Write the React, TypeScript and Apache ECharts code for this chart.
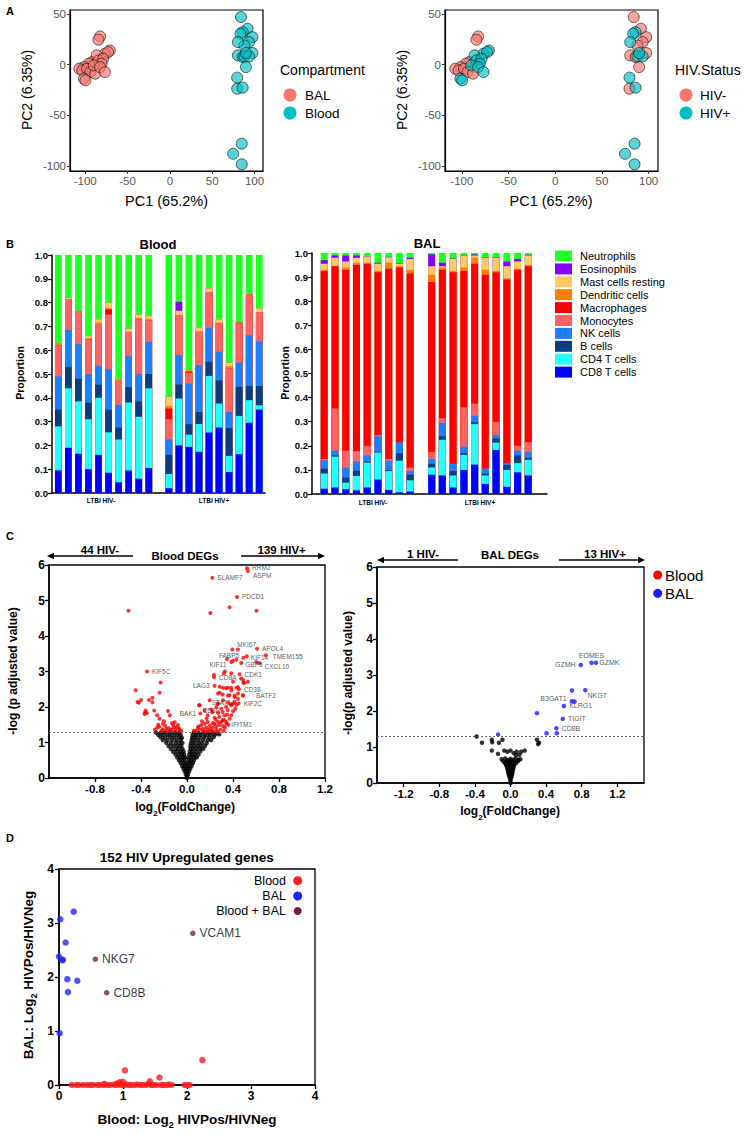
import React, { useEffect, useRef } from "react";
import * as echarts from "echarts";

const FONT = '"Liberation Sans", Arial, Helvetica, sans-serif';

// ---------------- Panel A : PCA ----------------
const pcaXTicks = [-100, -50, 0, 50, 100];
const pcaYTicks = [-100, -50, 0, 50];
const balHivNeg = [[-82.5, 27.9], [-84.4, 24.7], [-91.9, 2.6], [-95.8, 1], [-101.5, -2.4], [-107, -4], [-103.5, -5.6], [-97.7, -4], [-93.9, -7.3], [-88.2, -8.9]];
const balHivPos = [[-71, 14], [-76.8, 10.8], [-73, 12.4], [-86.4, 9.2], [-84.4, 4.2], [-78.8, 5.9], [-80.7, 1], [-90, -0.7], [-82.5, -2.4], [-76.8, -7.3], [-101.5, -13.8], [-99.6, -15.4]];
const bloodHivNeg = [[84, 47], [91.7, 35.5], [97.4, 27.2], [93.6, 22.3], [88, 19], [97.4, 11.5], [80.3, 9.2], [86, 7.5], [89.8, -2.4], [79.5, -23.7]];
const bloodHivPos = [[86, 32.2], [83.4, 30.6], [80.3, 22.3], [88, 8.2], [93.6, 8.2], [89.8, 11.5], [79.5, -12.8], [86, -22.7], [84.9, -78], [74.7, -88], [84.9, -98.4]];

// ---------------- Panel B : cell proportions (cumulative tops) ----------------
const cellTypes = ["Neutrophils", "Eosinophils", "Mast cells resting", "Dendritic cells", "Macrophages", "Monocytes", "NK cells", "B cells", "CD4 T cells", "CD8 T cells"];
const groupLabels = ["LTBI HIV-", "LTBI HIV+"];
const bloodCD8 = [0.095, 0.19, 0.165, 0.10, 0.16, 0.085, 0.045, 0.095, 0.06, 0.105, 0.02, 0.20, 0.194, 0.173, 0.254, 0.275, 0.088, 0.163, 0.295, 0.351];
const bloodCD4 = [0.28, 0.44, 0.385, 0.31, 0.40, 0.255, 0.225, 0.38, 0.32, 0.44, 0.08, 0.397, 0.245, 0.29, 0.492, 0.376, 0.156, 0.324, 0.39, 0.369];
const bloodB = [0.35, 0.53, 0.48, 0.38, 0.455, 0.35, 0.275, 0.445, 0.385, 0.50, 0.16, 0.456, 0.289, 0.34, 0.551, 0.473, 0.273, 0.446, 0.45, 0.45];
const bloodNK = [0.49, 0.685, 0.625, 0.50, 0.535, 0.52, 0.37, 0.575, 0.50, 0.635, 0.225, 0.579, 0.46, 0.537, 0.694, 0.593, 0.341, 0.547, 0.663, 0.638];
const bloodMono = [0.62, 0.815, 0.765, 0.645, 0.71, 0.75, 0.47, 0.675, 0.73, 0.725, 0.31, 0.748, 0.505, 0.677, 0.845, 0.712, 0.523, 0.712, 0.834, 0.759];
const bloodMacro = [0.62, 0.815, 0.765, 0.645, 0.71, 0.772, 0.47, 0.675, 0.73, 0.725, 0.355, 0.748, 0.51, 0.677, 0.845, 0.712, 0.523, 0.712, 0.834, 0.759];
const bloodDendr = [0.628, 0.815, 0.765, 0.65, 0.716, 0.776, 0.478, 0.678, 0.735, 0.73, 0.366, 0.748, 0.515, 0.677, 0.845, 0.715, 0.533, 0.72, 0.834, 0.759];
const bloodMast = [0.628, 0.82, 0.765, 0.66, 0.73, 0.80, 0.478, 0.69, 0.75, 0.745, 0.404, 0.766, 0.515, 0.695, 0.86, 0.73, 0.547, 0.72, 0.834, 0.776];
const bloodEos = [0.628, 0.82, 0.765, 0.66, 0.73, 0.80, 0.478, 0.69, 0.75, 0.745, 0.404, 0.804, 0.515, 0.695, 0.86, 0.73, 0.547, 0.72, 0.834, 0.776];
const bloodNeutro = [1, 1, 1, 1, 1, 1, 1, 1, 1, 1, 1, 1, 1, 1, 1, 1, 1, 1, 1, 1];

const balCD8 = [0.022, 0.027, 0.02, 0.015, 0.027, 0.06, 0.017, 0.007, 0.01, 0.08, 0.077, 0.027, 0.10, 0.122, 0.042, 0.183, 0.03, 0.09, 0.077];
const balCD4 = [0.085, 0.155, 0.047, 0.075, 0.13, 0.172, 0.095, 0.138, 0.057, 0.11, 0.225, 0.077, 0.162, 0.29, 0.077, 0.213, 0.10, 0.128, 0.142];
const balB = [0.105, 0.16, 0.068, 0.097, 0.135, 0.175, 0.10, 0.168, 0.08, 0.125, 0.24, 0.095, 0.17, 0.298, 0.085, 0.23, 0.12, 0.16, 0.15];
const balNK = [0.14, 0.18, 0.11, 0.135, 0.16, 0.24, 0.138, 0.213, 0.095, 0.145, 0.295, 0.125, 0.197, 0.325, 0.105, 0.245, 0.128, 0.18, 0.175];
const balMono = [0.145, 0.355, 0.18, 0.178, 0.20, 0.245, 0.145, 0.213, 0.11, 0.175, 0.315, 0.125, 0.36, 0.375, 0.105, 0.30, 0.128, 0.20, 0.215];
const balMacro = [0.925, 0.945, 0.93, 0.95, 0.955, 0.92, 0.935, 0.94, 0.915, 0.88, 0.93, 0.92, 0.925, 0.955, 0.91, 0.92, 0.89, 0.93, 0.945];
const balDendr = [0.93, 0.947, 0.94, 0.96, 0.96, 0.925, 0.96, 0.945, 0.93, 0.91, 0.94, 0.925, 0.94, 0.98, 0.93, 0.925, 0.895, 0.935, 0.95];
const balMast = [0.955, 0.98, 0.965, 0.98, 0.985, 0.955, 0.982, 0.955, 0.975, 0.945, 0.945, 0.975, 0.99, 0.99, 0.98, 0.98, 0.945, 0.965, 0.99];
const balEos = [0.97, 0.99, 0.99, 0.99, 0.987, 0.96, 0.984, 0.957, 0.98, 0.995, 0.96, 0.977, 0.992, 0.995, 0.982, 0.982, 0.965, 0.975, 0.993];
const balNeutro = [1, 1, 1, 1, 1, 1, 1, 1, 1, 1, 1, 1, 1, 1, 1, 1, 1, 1, 1];

// ---------------- Panel C : volcano plots ----------------
const pThreshold = 1.3;
const bloodVolcanoXTicks = [-0.8, -0.4, 0, 0.4, 0.8, 1.2];
const balVolcanoXTicks = [-1.2, -0.8, -0.4, 0, 0.4, 0.8, 1.2];
const bloodDown = [[-0.51, 4.71], [-0.447, 2.47], [-0.23, 2.69], [-0.238, 2.40], [-0.40, 2.20], [-0.42, 2.12], [-0.30, 2.26], [-0.30, 2.13], [-0.36, 1.90], [-0.35, 1.83], [-0.285, 1.90], [-0.26, 1.77], [-0.165, 1.89], [-0.15, 1.77], [-0.24, 1.67], [-0.21, 1.53], [-0.24, 1.44], [-0.18, 1.39], [-0.12, 1.49], [-0.092, 1.42], [-0.21, 1.37], [-0.137, 1.37], [-0.063, 1.35], [-0.107, 1.57], [-0.079, 1.49], [-0.37, 1.80], [-0.19, 1.47], [-0.16, 1.40], [-0.10, 1.33], [-0.22, 1.33], [-0.26, 1.42], [-0.13, 1.55], [-0.05, 1.32], [-0.28, 1.36], [-0.17, 1.31], [-0.115, 1.43], [-0.20, 1.60], [-0.07, 1.40], [-0.25, 1.50], [-0.145, 1.33], [-0.43, 2.14], [-0.365, 1.85], [-0.33, 2.2]];
const bloodUp = [[0.37, 4.81], [0.203, 4.65], [0.603, 4.71], [0.443, 3.62], [0.49, 3.39], [0.429, 3.33], [0.40, 3.30], [0.603, 3.27], [0.33, 3.0], [0.235, 2.90], [0.385, 2.95], [0.40, 2.71], [0.487, 2.76], [0.49, 2.68], [0.53, 2.71], [0.284, 2.57], [0.313, 2.54], [0.356, 2.54], [0.385, 2.54], [0.43, 2.54], [0.443, 2.56], [0.284, 2.40], [0.356, 2.32], [0.414, 2.32], [0.443, 2.23], [0.385, 2.08], [0.429, 2.06], [0.268, 2.09], [0.47, 2.80], [0.50, 2.68], [0.34, 2.53], [0.385, 2.47], [0.443, 2.38], [0.485, 2.33], [0.414, 2.28], [0.37, 2.33], [0.31, 2.35], [0.27, 2.38], [0.40, 2.10], [0.356, 2.12], [0.313, 2.19], [0.27, 2.09], [0.32, 2.95],
  [0.104, 2.05], [0.153, 1.91], [0.18, 1.77], [0.21, 1.93], [0.255, 2.0], [0.27, 1.83], [0.24, 1.70], [0.28, 1.72], [0.31, 1.86], [0.326, 1.77], [0.34, 2.0], [0.355, 1.91], [0.385, 2.05], [0.40, 1.88], [0.414, 2.15], [0.31, 1.63], [0.27, 1.58], [0.226, 1.55], [0.18, 1.58], [0.153, 1.53], [0.124, 1.49], [0.095, 1.42], [0.139, 1.39], [0.168, 1.42], [0.197, 1.39], [0.226, 1.42], [0.255, 1.46], [0.284, 1.49], [0.298, 1.58], [0.326, 1.63], [0.21, 1.34], [0.255, 1.37], [0.18, 1.34], [0.081, 1.34], [0.11, 1.37], [0.313, 1.46], [0.342, 1.53], [0.37, 1.67], [0.385, 1.77], [0.06, 1.33], [0.14, 1.33], [0.23, 1.31], [0.29, 1.36], [0.33, 1.42], [0.36, 1.50], [0.20, 1.48], [0.13, 1.60], [0.25, 1.65], [0.35, 1.78], [0.42, 1.95], [0.30, 1.95], [0.22, 1.85], [0.17, 1.67], [0.10, 1.45], [0.27, 1.30], [0.32, 1.33], [0.16, 1.31], [0.24, 1.52]];
const bloodGeneNames = ["RRM2", "ASPM", "SLAMF7", "PDCD1", "MKI67", "APOL4", "FABP5", "KIF14", "TMEM155", "KIF11", "GBP5", "CXCL10", "CDK1", "CD8A", "LAG3", "CD38", "BATF2", "KIF2C", "STAT1", "CD8B", "BAK1", "IFITM1", "KIF5C"];
const bloodGeneFC = [0.522, 0.53, 0.22, 0.435, 0.394, 0.609, 0.348, 0.52, 0.684, 0.385, 0.472, 0.631, 0.457, 0.235, 0.24, 0.452, 0.487, 0.449, 0.197, 0.11, 0.116, 0.342, -0.348];
const bloodGeneP = [5.91, 5.83, 5.64, 5.10, 3.62, 3.64, 3.35, 3.43, 3.46, 3.27, 3.24, 3.23, 2.92, 2.84, 2.60, 2.50, 2.32, 2.10, 2.19, 2.05, 1.82, 1.58, 3.0];
const bloodNS = [[-0.27, 1.28], [-0.23, 1.27], [-0.19, 1.28], [-0.15, 1.27], [-0.11, 1.28], [-0.07, 1.27], [0.06, 1.28], [0.1, 1.27], [0.14, 1.28], [0.18, 1.27], [0.22, 1.28], [0.26, 1.26],
  [-0.25, 1.22], [-0.21, 1.21], [-0.17, 1.22], [-0.13, 1.21], [-0.09, 1.22], [-0.055, 1.21], [0.05, 1.22], [0.08, 1.21], [0.12, 1.22], [0.16, 1.21], [0.2, 1.22], [0.24, 1.21], [0.28, 1.23],
  [-0.23, 1.15], [-0.19, 1.14], [-0.15, 1.15], [-0.11, 1.14], [-0.07, 1.15], [-0.045, 1.13], [0.045, 1.14], [0.075, 1.15], [0.11, 1.14], [0.15, 1.15], [0.19, 1.14], [0.23, 1.15],
  [-0.21, 1.07], [-0.17, 1.06], [-0.13, 1.07], [-0.09, 1.06], [-0.055, 1.07], [0.04, 1.06], [0.07, 1.07], [0.1, 1.06], [0.14, 1.07], [0.18, 1.06], [0.21, 1.07],
  [-0.18, 0.99], [-0.14, 0.98], [-0.1, 0.99], [-0.065, 0.98], [-0.04, 0.99], [0.035, 0.98], [0.065, 0.99], [0.1, 0.98], [0.13, 0.99], [0.17, 0.98],
  [-0.16, 0.9], [-0.12, 0.9], [-0.085, 0.91], [-0.05, 0.9], [0.03, 0.9], [0.06, 0.91], [0.09, 0.9], [0.12, 0.91], [0.155, 0.9],
  [-0.14, 0.82], [-0.1, 0.82], [-0.07, 0.83], [-0.04, 0.82], [0.03, 0.82], [0.055, 0.83], [0.085, 0.82], [0.115, 0.83], [0.14, 0.82],
  [-0.12, 0.74], [-0.085, 0.75], [-0.055, 0.74], [-0.03, 0.75], [0.025, 0.74], [0.05, 0.75], [0.08, 0.74], [0.115, 0.75],
  [-0.1, 0.66], [-0.07, 0.66], [-0.045, 0.67], [-0.025, 0.66], [0.02, 0.66], [0.045, 0.67], [0.07, 0.66], [0.1, 0.66],
  [-0.085, 0.58], [-0.06, 0.58], [-0.035, 0.59], [-0.015, 0.58], [0.018, 0.58], [0.04, 0.59], [0.065, 0.58], [0.085, 0.58],
  [-0.07, 0.5], [-0.045, 0.5], [-0.022, 0.51], [0.015, 0.5], [0.035, 0.51], [0.06, 0.5],
  [-0.055, 0.42], [-0.032, 0.42], [-0.012, 0.43], [0.012, 0.42], [0.032, 0.43], [0.052, 0.42],
  [-0.042, 0.34], [-0.02, 0.34], [0.0, 0.35], [0.02, 0.34], [0.04, 0.34],
  [-0.03, 0.26], [-0.012, 0.26], [0.01, 0.26], [0.028, 0.26],
  [-0.02, 0.18], [0.0, 0.18], [0.018, 0.18], [-0.01, 0.1], [0.008, 0.1], [0, 0.03], [0, 0]];

const balSig = [[0.69, 2.57], [0.72, 2.26], [0.297, 1.94], [0.52, 1.38], [0.405, 1.38], [-0.14, 1.35]];
const balGeneNames = ["EOMES", "GZMK", "GZMH", "NKG7", "B3GAT1", "KLRG1", "TIGIT", "CD8B"];
const balGeneFC = [0.91, 0.96, 0.79, 0.84, 0.69, 0.60, 0.587, 0.515];
const balGeneP = [3.34, 3.34, 3.28, 2.58, 2.27, 2.14, 1.78, 1.52];
const balNS = [[-0.38, 1.29], [-0.32, 1.12], [-0.21, 1.2], [-0.205, 1.13], [-0.13, 1.12], [-0.09, 1.2], [-0.21, 0.9], [-0.14, 0.81], [-0.07, 0.9], [-0.035, 0.87], [0.0, 0.9], [0.035, 0.83], [0.06, 0.78], [0.1, 0.78], [0.12, 0.87], [0.16, 0.9], [0.07, 0.87], [0.297, 1.2], [0.31, 1.08], [0.32, 1.12],
  [-0.1, 0.66], [-0.06, 0.68], [-0.03, 0.64], [0.0, 0.67], [0.03, 0.65], [0.06, 0.68], [0.09, 0.64], [0.11, 0.66], [-0.08, 0.6], [-0.04, 0.6], [0.0, 0.6], [0.04, 0.6], [0.08, 0.6],
  [-0.06, 0.55], [-0.03, 0.55], [0, 0.55], [0.03, 0.55], [0.06, 0.55], [-0.05, 0.5], [-0.02, 0.5], [0.01, 0.5], [0.04, 0.5], [-0.04, 0.45], [0, 0.45], [0.035, 0.45], [-0.035, 0.4], [0, 0.4], [0.03, 0.4], [-0.03, 0.35], [0, 0.35], [0.025, 0.35], [-0.025, 0.3], [0, 0.3], [0.02, 0.3], [-0.02, 0.25], [0, 0.25], [0.02, 0.25], [-0.015, 0.2], [0.012, 0.2], [-0.01, 0.15], [0.01, 0.15], [0, 0.1], [0, 0.05], [0, 0.0]];

// ---------------- Panel D : 152 HIV upregulated genes ----------------
const dBlood = [[2.24, 0.46], [1.03, 0.27], [1.57, 0.14], [1.42, 0.07], [0.95, 0.05], [0.91, 0.03], [0.71, 0.02], [1.0, 0.06],
  [0.2, 0], [0.27, 0], [0.31, 0], [0.38, 0], [0.44, 0], [0.49, 0], [0.53, 0], [0.6, 0], [0.64, 0], [0.7, 0], [0.76, 0], [0.8, 0], [0.86, 0.01], [0.89, 0], [0.93, 0.01], [0.97, 0], [1.02, 0], [1.06, 0.01], [1.1, 0], [1.13, 0], [1.18, 0], [1.22, 0.01], [1.27, 0], [1.31, 0], [1.36, 0], [1.4, 0.02], [1.44, 0], [1.48, 0], [1.53, 0], [1.6, 0], [1.63, 0], [1.68, 0], [1.72, 0.01], [1.76, 0], [1.96, 0], [2.0, 0], [2.04, 0]];
const dBal = [[0.229, 3.21], [0.02, 3.07], [0.104, 2.64], [0.0, 2.38], [0.052, 2.31], [0.06, 2.32], [0.13, 1.96], [0.286, 1.93], [0.14, 1.72], [0.01, 0.96]];
const dBothNames = ["VCAM1", "NKG7", "CD8B"];
const dBothX = [2.09, 0.568, 0.745];
const dBothY = [2.81, 2.33, 1.71];

// ---------------- styles / layout ----------------
const cellColors = ["#22FF22", "#8800FF", "#FFCA66", "#FF8000", "#FF0000", "#FF6464", "#1A80FF", "#0A3D7D", "#22FFFF", "#0000FF"];
const SALMON = "#F8766D";
const TEAL = "#00BFC4";
const GENE_LABEL = "#2b2b2b";

const bloodTops = [bloodNeutro, bloodEos, bloodMast, bloodDendr, bloodMacro, bloodMono, bloodNK, bloodB, bloodCD4, bloodCD8];
const balTops = [balNeutro, balEos, balMast, balDendr, balMacro, balMono, balNK, balB, balCD4, balCD8];
const bloodPos = (i: number) => (i < 10 ? i : i + 1);
const balPos = (i: number) => (i < 9 ? i : i + 1);

const bloodLabelPlace: Record<string, any> = {
  RRM2: { position: "right", offset: [0, -1] }, ASPM: { position: "right", offset: [0, 4] }, SLAMF7: { position: "right" },
  PDCD1: { position: "right" }, MKI67: { position: "right", offset: [0, -5] }, APOL4: { position: "right" },
  FABP5: { position: "top", offset: [2, 5] }, KIF14: { position: "right", offset: [-1, 1] }, TMEM155: { position: "right", offset: [2, 1] },
  KIF11: { position: "left", offset: [0, 3] }, GBP5: { position: "right", offset: [-1, 2] }, CXCL10: { position: "right", offset: [0, 3] },
  CDK1: { position: "right" }, CD8A: { position: "right" }, LAG3: { position: "left" }, CD38: { position: "right" },
  BATF2: { position: "right", offset: [8, 0] }, KIF2C: { position: "right" }, STAT1: { position: "right", offset: [-3, 2] },
  CD8B: { position: "right", offset: [-2, 5] }, BAK1: { position: "left", offset: [1, 0] }, IFITM1: { position: "right", offset: [0, 3] },
  KIF5C: { position: "right" },
};
const balLabelPlace: Record<string, any> = {
  EOMES: { position: "top", offset: [0, 1] }, GZMK: { position: "right", offset: [-2, 0] }, GZMH: { position: "left" },
  NKG7: { position: "right", offset: [-3, 5] }, B3GAT1: { position: "left", offset: [0, -3] }, KLRG1: { position: "right" },
  TIGIT: { position: "right" }, CD8B: { position: "right" },
};

const txt = (text: string, x: number, y: number, font: string, o: any = {}) => ({
  type: "text", x, y, rotation: o.rot || 0, silent: true, z: 100,
  style: {
    text, font, fill: o.fill || "#000",
    textAlign: o.align || "center", align: o.align || "center",
    textVerticalAlign: "middle", verticalAlign: "middle",
    rich: o.rich,
  },
});
const arrow = (x1: number, x2: number, y: number, dir: number) => {
  const tip = dir < 0 ? x1 : x2;
  return [
    { type: "line", silent: true, z: 100, shape: { x1: dir < 0 ? x1 + 5 : x1, y1: y, x2: dir < 0 ? x2 : x2 - 5, y2: y }, style: { stroke: "#000", lineWidth: 1.6 } },
    { type: "polygon", silent: true, z: 100, shape: { points: [[tip, y], [tip - dir * 7, y - 3.2], [tip - dir * 7, y + 3.2]] }, style: { fill: "#000" } },
  ];
};

const bold = (s: number) => `bold ${s}px ${FONT}`;
const norm = (s: number) => `${s}px ${FONT}`;

function pcaAxes(g: number) {
  const common = { gridIndex: g, type: "value", splitLine: { show: false } };
  return {
    x: { ...common, min: -118, max: 110,
      axisLine: { show: true, onZero: false, lineStyle: { color: "#000", width: 1.2 } },
      axisTick: { show: true, customValues: pcaXTicks, length: 3, lineStyle: { color: "#333" } },
      axisLabel: { customValues: pcaXTicks, color: "#555", fontSize: 11.5, fontFamily: FONT, margin: 4 } },
    y: { ...common, min: -105, max: 54,
      axisLine: { show: true, onZero: false, lineStyle: { color: "#000", width: 1.2 } },
      axisTick: { show: true, customValues: pcaYTicks, length: 3, lineStyle: { color: "#333" } },
      axisLabel: { customValues: pcaYTicks, color: "#555", fontSize: 11.5, fontFamily: FONT, margin: 4 } },
  };
}

function barAxes(g: number, min: number, max: number) {
  return {
    x: { gridIndex: g, type: "value", min, max, axisLine: { show: true, onZero: false, lineStyle: { color: "#000", width: 1.5 } },
      axisTick: { show: false }, axisLabel: { show: false }, splitLine: { show: false } },
    y: { gridIndex: g, type: "value", min: 0, max: 1, interval: 0.1,
      axisLine: { show: true, onZero: false, lineStyle: { color: "#000", width: 1.5 } },
      axisTick: { show: true, length: 4, lineStyle: { color: "#000", width: 1.2 } },
      axisLabel: { formatter: (v: number) => v.toFixed(1), fontWeight: "bold", fontSize: 9.5, color: "#000", fontFamily: FONT, margin: 4 },
      splitLine: { show: false } },
  };
}

function volcanoAxes(g: number, xr: number, ticks: number[]) {
  return {
    x: { gridIndex: g, type: "value", min: -xr, max: xr, splitLine: { show: false },
      axisLine: { show: true, onZero: false, lineStyle: { color: "#000", width: 1.5 } },
      axisTick: { show: true, customValues: ticks, length: 4, lineStyle: { color: "#000", width: 1.3 } },
      axisLabel: { customValues: ticks, formatter: (v: number) => v.toFixed(1), fontWeight: "bold", fontSize: 11.5, color: "#000", fontFamily: FONT, margin: 5 } },
    y: { gridIndex: g, type: "value", min: 0, max: 6, interval: 1, splitLine: { show: false },
      axisLine: { show: true, onZero: false, lineStyle: { color: "#000", width: 1.5 } },
      axisTick: { show: true, length: 4, lineStyle: { color: "#000", width: 1.3 } },
      axisLabel: { fontWeight: "bold", fontSize: 12, color: "#000", fontFamily: FONT, margin: 4 } },
  };
}

function buildOption() {
  const grids = [
    { left: 70, top: 10, width: 193, height: 161, show: true, borderColor: "#000", borderWidth: 1.2 },
    { left: 445, top: 10, width: 213, height: 161, show: true, borderColor: "#000", borderWidth: 1.2 },
    { left: 52, top: 255, width: 213, height: 238 },
    { left: 312, top: 253, width: 235, height: 241 },
    { left: 49, top: 565, width: 276, height: 213, show: true, borderColor: "#000", borderWidth: 1.3 },
    { left: 377, top: 567, width: 267, height: 216, show: true, borderColor: "#000", borderWidth: 1.3 },
    { left: 59, top: 869, width: 256, height: 216, show: true, borderColor: "#000", borderWidth: 1.3 },
  ];
  const a0 = pcaAxes(0), a1 = pcaAxes(1);
  const b2 = barAxes(2, -0.63, 20.57), b3 = barAxes(3, -1.14, 20.74);
  const v4 = volcanoAxes(4, 1.2, bloodVolcanoXTicks), v5 = volcanoAxes(5, 1.5, balVolcanoXTicks);
  const dTicks = {
    axisLine: { show: true, onZero: false, lineStyle: { color: "#000", width: 1.5 } },
    axisTick: { show: true, length: 4, lineStyle: { color: "#000", width: 1.3 } },
    axisLabel: { fontWeight: "bold", fontSize: 12, color: "#000", fontFamily: FONT, margin: 5 },
    splitLine: { show: false },
  };
  const xAxis = [a0.x, a1.x, b2.x, b3.x, v4.x, v5.x, { gridIndex: 6, type: "value", min: 0, max: 4, interval: 1, ...dTicks }];
  const yAxis = [a0.y, a1.y, b2.y, b3.y, v4.y, v5.y, { gridIndex: 6, type: "value", min: 0, max: 4, interval: 1, ...dTicks }];

  const pcaStyle = (c: string) => ({ color: echarts.color.modifyAlpha(c, 0.82), borderColor: "#111", borderWidth: 0.8 });
  const series: any[] = [];
  // Panel A
  series.push({ type: "scatter", name: "BAL", xAxisIndex: 0, yAxisIndex: 0, symbolSize: 11, itemStyle: pcaStyle(SALMON), data: [...balHivNeg, ...balHivPos] });
  series.push({ type: "scatter", name: "Blood", xAxisIndex: 0, yAxisIndex: 0, symbolSize: 11, itemStyle: pcaStyle(TEAL), data: [...bloodHivNeg, ...bloodHivPos] });
  series.push({ type: "scatter", name: "HIV-", xAxisIndex: 1, yAxisIndex: 1, symbolSize: 11, itemStyle: pcaStyle(SALMON), data: [...balHivNeg, ...bloodHivNeg] });
  series.push({ type: "scatter", name: "HIV+", xAxisIndex: 1, yAxisIndex: 1, symbolSize: 11, itemStyle: pcaStyle(TEAL), data: [...balHivPos, ...bloodHivPos] });
  // Panel B
  cellTypes.forEach((name, k) => {
    series.push({ type: "bar", name, xAxisIndex: 2, yAxisIndex: 2, barWidth: 6.7, barGap: "-100%", itemStyle: { color: cellColors[k] },
      data: bloodTops[k].map((v, i) => [bloodPos(i), v]) });
  });
  cellTypes.forEach((name, k) => {
    series.push({ type: "bar", name, xAxisIndex: 3, yAxisIndex: 3, barWidth: 7, barGap: "-100%", itemStyle: { color: cellColors[k] },
      data: balTops[k].map((v, i) => [balPos(i), v]) });
  });
  // Panel C
  const thresholdLine = { silent: true, symbol: "none", label: { show: false }, lineStyle: { type: [2, 2], color: "#555", width: 0.9 }, data: [{ yAxis: pThreshold }] };
  series.push({ type: "scatter", name: "Blood NS", xAxisIndex: 4, yAxisIndex: 4, symbolSize: 4.5, itemStyle: { color: "#000" }, data: bloodNS, markLine: thresholdLine });
  series.push({ type: "scatter", name: "Blood DEG", xAxisIndex: 4, yAxisIndex: 4, symbolSize: 4, itemStyle: { color: "#FF0000" }, data: [...bloodDown, ...bloodUp] });
  series.push({ type: "scatter", name: "Blood DEG labelled", xAxisIndex: 4, yAxisIndex: 4, symbolSize: 4, itemStyle: { color: "#FF0000" },
    label: { show: true, formatter: "{b}", fontSize: 6.5, color: GENE_LABEL, fontFamily: FONT, distance: 3 },
    data: bloodGeneNames.map((n, i) => ({ name: n, value: [bloodGeneFC[i], bloodGeneP[i]],
      label: { ...bloodLabelPlace[n], color: GENE_LABEL, fontSize: 6.5, fontFamily: FONT } })) });
  series.push({ type: "scatter", name: "BAL NS", xAxisIndex: 5, yAxisIndex: 5, symbolSize: 4.5, itemStyle: { color: "#000" }, data: balNS, markLine: thresholdLine });
  series.push({ type: "scatter", name: "BAL DEG", xAxisIndex: 5, yAxisIndex: 5, symbolSize: 4.5, itemStyle: { color: "#1A1AFF" }, data: balSig });
  series.push({ type: "scatter", name: "BAL DEG labelled", xAxisIndex: 5, yAxisIndex: 5, symbolSize: 4.5, itemStyle: { color: "#1A1AFF" },
    label: { show: true, formatter: "{b}", fontSize: 7, color: GENE_LABEL, fontFamily: FONT, distance: 3 },
    data: balGeneNames.map((n, i) => ({ name: n, value: [balGeneFC[i], balGeneP[i]],
      label: { ...balLabelPlace[n], color: GENE_LABEL, fontSize: 7, fontFamily: FONT } })) });
  // Panel D
  series.push({ type: "scatter", name: "D Blood", xAxisIndex: 6, yAxisIndex: 6, symbolSize: 6.5, itemStyle: { color: "#FF1E1E" }, data: dBlood });
  series.push({ type: "scatter", name: "D BAL", xAxisIndex: 6, yAxisIndex: 6, symbolSize: 6.5, itemStyle: { color: "#2222FF" }, data: dBal });
  series.push({ type: "scatter", name: "D Blood + BAL", xAxisIndex: 6, yAxisIndex: 6, symbolSize: 5.5, itemStyle: { color: "#7A1E4B" },
    label: { show: true, position: "right", formatter: "{b}", fontSize: 12, color: "#000", fontFamily: FONT, distance: 4 },
    data: dBothNames.map((n, i) => ({ name: n, value: [dBothX[i], dBothY[i]] })) });

  const sub = (big: number, small: number) => ({
    a: { font: bold(big), lineHeight: big + 4, verticalAlign: "middle" },
    s: { font: bold(small), lineHeight: big + 4, verticalAlign: "bottom", padding: [0, 0, -2, 0] },
  });

  const graphic: any[] = [
    // panel letters
    txt("A", 6, 11, bold(11), { align: "left" }),
    txt("B", 6, 244, bold(11), { align: "left" }),
    txt("C", 6, 536, bold(11), { align: "left" }),
    txt("D", 6, 838, bold(11), { align: "left" }),
    // Panel A
    txt("PC2 (6.35%)", 27, 90, norm(14), { rot: Math.PI / 2 }),
    txt("PC2 (6.35%)", 402, 90, norm(14), { rot: Math.PI / 2 }),
    txt("PC1 (65.2%)", 166.5, 201, norm(14.5)),
    txt("PC1 (65.2%)", 551, 201, norm(14.5)),
    txt("Compartment", 280, 70, norm(14), { align: "left" }),
    { type: "circle", silent: true, shape: { cx: 290, cy: 95, r: 6.5 }, style: { fill: SALMON } },
    { type: "circle", silent: true, shape: { cx: 290, cy: 113, r: 6.5 }, style: { fill: TEAL } },
    txt("BAL", 305, 95, norm(13.5), { align: "left" }),
    txt("Blood", 305, 113, norm(13.5), { align: "left" }),
    txt("HIV.Status", 675, 70, norm(14), { align: "left" }),
    { type: "circle", silent: true, shape: { cx: 686, cy: 95, r: 6.5 }, style: { fill: SALMON } },
    { type: "circle", silent: true, shape: { cx: 686, cy: 113, r: 6.5 }, style: { fill: TEAL } },
    txt("HIV-", 700, 95, norm(13.5), { align: "left" }),
    txt("HIV+", 700, 113, norm(13.5), { align: "left" }),
    // Panel B
    txt("Blood", 158, 244, bold(13)),
    txt("BAL", 427, 243, bold(13)),
    txt("Proportion", 20, 373, bold(10.5), { rot: Math.PI / 2 }),
    txt("Proportion", 285, 373, bold(10.5), { rot: Math.PI / 2 }),
    txt(groupLabels[0], 101, 500, bold(6.5)),
    txt(groupLabels[1], 214, 500, bold(6.5)),
    txt(groupLabels[0], 373, 502, bold(6.5)),
    txt(groupLabels[1], 480, 502, bold(6.5)),
    ...cellTypes.flatMap((n, k) => [
      { type: "rect", silent: true, shape: { x: 555, y: 250.5 + 12.9 * k, width: 17, height: 11 }, style: { fill: cellColors[k] } },
      txt(n, 580, 256 + 12.9 * k, norm(11), { align: "left" }),
    ]),
    // Panel C
    txt("44 HIV-", 100, 550, bold(11.5)),
    txt("Blood DEGs", 185, 555.5, bold(11.5)),
    txt("139 HIV+", 281.7, 550, bold(11.5)),
    ...arrow(47, 133, 556, -1),
    ...arrow(241, 325, 556, 1),
    txt("1 HIV-", 423, 554, bold(11.5)),
    txt("BAL DEGs", 510, 555, bold(11.5)),
    txt("13 HIV+", 605, 554, bold(11.5)),
    ...arrow(377, 458, 560, -1),
    ...arrow(559, 645, 560, 1),
    txt("-log (p adjusted value)", 13, 671, bold(12), { rot: Math.PI / 2 }),
    txt("-log(p adjusted value)", 348, 673, bold(12), { rot: Math.PI / 2 }),
    txt("{a|log}{s|2}{a|(FoldChange)}", 185, 807, bold(12), { rich: sub(12, 8) }),
    txt("{a|log}{s|2}{a|(FoldChange)}", 510, 811, bold(12), { rich: sub(12, 8) }),
    { type: "circle", silent: true, shape: { cx: 657.7, cy: 575, r: 4.5 }, style: { fill: "#FF0000" } },
    { type: "circle", silent: true, shape: { cx: 657.7, cy: 593.3, r: 4.5 }, style: { fill: "#1A1AFF" } },
    txt("Blood", 665, 575, norm(15), { align: "left" }),
    txt("BAL", 665, 593.3, norm(15), { align: "left" }),
    // Panel D
    txt("152 HIV Upregulated genes", 186.7, 857, bold(13.5)),
    txt("{a|Blood: Log}{s|2}{a| HIVPos/HIVNeg}", 187, 1119, bold(13.5), { rich: sub(13.5, 9) }),
    txt("{a|BAL: Log}{s|2}{a| HIVPos/HIVNeg}", 28, 975, bold(13.5), { rot: Math.PI / 2, rich: sub(13.5, 9) }),
    txt("Blood", 286, 880.7, norm(12.5), { align: "right" }),
    txt("BAL", 286, 896, norm(12.5), { align: "right" }),
    txt("Blood + BAL", 286, 911, norm(12.5), { align: "right" }),
    { type: "circle", silent: true, shape: { cx: 297.7, cy: 880.7, r: 4.5 }, style: { fill: "#FF1E1E" } },
    { type: "circle", silent: true, shape: { cx: 297.7, cy: 896, r: 4.5 }, style: { fill: "#2222FF" } },
    { type: "circle", silent: true, shape: { cx: 297.7, cy: 911, r: 4 }, style: { fill: "#7A1E4B" } },
  ];

  return {
    animation: false,
    backgroundColor: "#fff",
    textStyle: { fontFamily: FONT },
    grid: grids,
    xAxis,
    yAxis,
    series,
    graphic,
  };
}

export default function App() {
  const ref = useRef<HTMLDivElement>(null);
  useEffect(() => {
    if (!ref.current) return;
    const chart = echarts.init(ref.current, null, { renderer: "svg" });
    chart.setOption(buildOption() as any);
    return () => chart.dispose();
  }, []);
  return <div ref={ref} style={{ position: "absolute", left: 0, top: 0, width: 750, height: 1135 }} />;
}
